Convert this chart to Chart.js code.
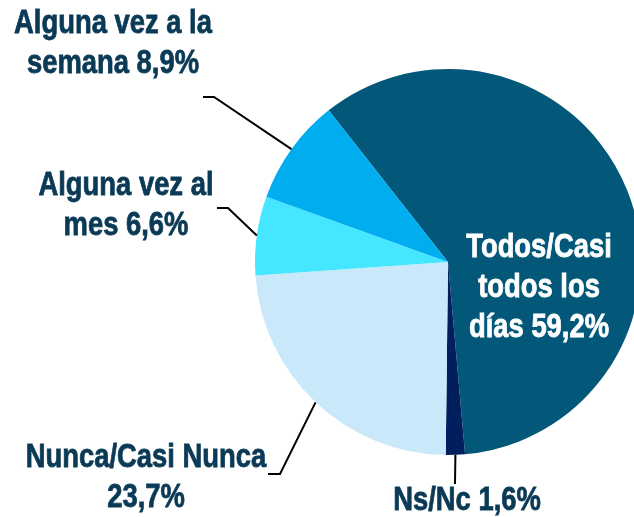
<!DOCTYPE html>
<html>
<head>
<meta charset="utf-8">
<script src="https://cdn.jsdelivr.net/npm/chart.js@4.4.1/dist/chart.umd.min.js"></script>
<style>
  html, body { margin: 0; padding: 0; background: #fff; }
  #wrap { position: relative; width: 634px; height: 517px; overflow: hidden; }
  #pieChart { position: absolute; left: 0; top: 0; }
</style>
</head>
<body>
<div id="wrap"><canvas id="pieChart" width="660" height="517"></canvas></div>
<script>
// data, clockwise from the top-left
var categories = ['Todos/Casi todos los días', 'Ns/Nc', 'Nunca/Casi Nunca', 'Alguna vez al mes', 'Alguna vez a la semana'];
var values = [59.2, 1.6, 23.7, 6.6, 8.9];
var colors = ['#03587A', '#001F5C', '#C9E9FB', '#45E6FF', '#00AEEF'];
// how each label is wrapped (the percentage is added to the last line)
var labelWrap = [['Todos/Casi', 'todos los', 'días'], ['Ns/Nc'], ['Nunca/Casi Nunca', ''], ['Alguna vez al', 'mes'], ['Alguna vez a la', 'semana']];

// label placement: text centre x, first baseline, leader elbow and end (null = inside)
var labelPos = [
    { x: 539, y: 257, color: '#ffffff', elbow: null },
    { x: 467, y: 510, color: '#0B3A56', elbow: [455, 484], end: [455, 484] },
    { x: 146, y: 467, color: '#0B3A56', elbow: [280, 474], end: [268, 474] },
    { x: 126, y: 195, color: '#0B3A56', elbow: [228, 208], end: [217, 208] },
    { x: 113, y: 33, color: '#0B3A56', elbow: [214, 97], end: [203, 97] }
];

function pct(v) {
    return v.toFixed(1).replace('.', ',') + '%';
}

// narrow heavy text: Liberation Sans bold squeezed horizontally, lightly stroked
function narrowText(ctx, t, x, y) {
    ctx.save();
    ctx.translate(x, y);
    ctx.scale(0.83, 1);
    ctx.fillText(t, 0, 0);
    ctx.strokeText(t, 0, 0);
    ctx.restore();
}

var labelPlugin = {
    id: 'labels',
    afterDraw: function (chart) {
        var ctx = chart.ctx;
        var arcs = chart.getDatasetMeta(0).data;
        ctx.save();
        ctx.font = 'bold 33px "Liberation Sans", Arial, sans-serif';
        ctx.textAlign = 'center';
        ctx.textBaseline = 'alphabetic';
        arcs.forEach(function (arc, i) {
            var p = labelPos[i];
            if (p.elbow) {
                var mid = (arc.startAngle + arc.endAngle) / 2;
                var ex = arc.x + Math.cos(mid) * arc.outerRadius;
                var ey = arc.y + Math.sin(mid) * arc.outerRadius;
                ctx.strokeStyle = '#000';
                ctx.lineWidth = 2;
                ctx.beginPath();
                ctx.moveTo(ex, ey);
                ctx.lineTo(p.elbow[0], p.elbow[1]);
                ctx.lineTo(p.end[0], p.end[1]);
                ctx.stroke();
            }
            var lines = labelWrap[i].slice();
            var last = lines.length - 1;
            lines[last] = (lines[last] + ' ' + pct(values[i])).trim();
            ctx.fillStyle = p.color;
            ctx.strokeStyle = p.color;
            ctx.lineWidth = 0.8;
            lines.forEach(function (t, k) {
                narrowText(ctx, t, p.x, p.y + k * 40);
            });
        });
        ctx.restore();
    }
};

var pieCtx = document.getElementById('pieChart').getContext('2d');
var pieChart = new Chart(pieCtx, {
    type: 'pie',
    data: {
        labels: categories,
        datasets: [{
            data: values,
            backgroundColor: colors,
            borderWidth: 0
        }]
    },
    options: {
        responsive: false,
        animation: false,
        events: [],
        rotation: -38.2,
        layout: { padding: { left: 255, right: 19, top: 69, bottom: 62 } },
        plugins: { legend: { display: false }, tooltip: { enabled: false } }
    },
    plugins: [labelPlugin]
});
</script>
</body>
</html>
